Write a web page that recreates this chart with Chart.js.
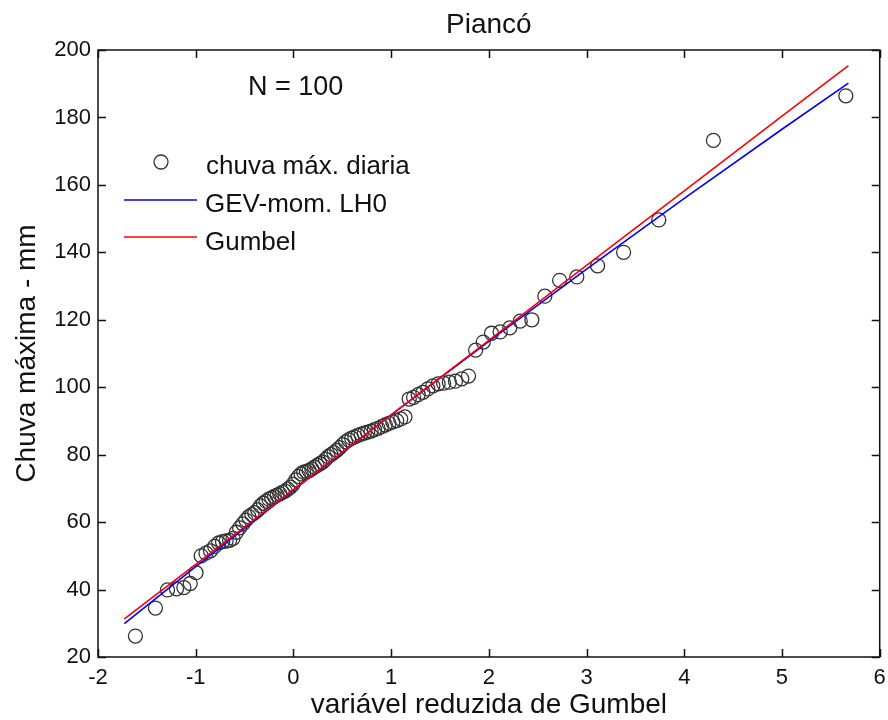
<!DOCTYPE html>
<html>
<head>
<meta charset="utf-8">
<title>Piancó</title>
<script src="https://cdn.jsdelivr.net/npm/chart.js@4.4.1/dist/chart.umd.min.js"></script>
<style>
  html, body { margin: 0; padding: 0; background: #fff; }
  canvas { display: block; }
</style>
</head>
<body>
<canvas id="chart" width="888" height="720"></canvas>
<script>
// reduced Gumbel variate of each sorted sample (plotting position)
const gumbelVariate = [
  -1.617, -1.412, -1.289, -1.197, -1.121, -1.056, -0.997, -0.944, -0.895, -0.849,
  -0.806, -0.765, -0.726, -0.689, -0.653, -0.618, -0.584, -0.551, -0.518, -0.487,
  -0.456, -0.425, -0.396, -0.366, -0.337, -0.308, -0.280, -0.251, -0.223, -0.195,
  -0.168, -0.140, -0.113, -0.085, -0.058, -0.031, -0.004, 0.024, 0.051, 0.078,
  0.105, 0.133, 0.160, 0.188, 0.215, 0.243, 0.271, 0.299, 0.328, 0.356,
  0.385, 0.414, 0.444, 0.474, 0.504, 0.534, 0.565, 0.596, 0.628, 0.660,
  0.693, 0.726, 0.760, 0.795, 0.830, 0.866, 0.902, 0.940, 0.978, 1.017,
  1.057, 1.098, 1.141, 1.185, 1.230, 1.277, 1.325, 1.375, 1.427, 1.481,
  1.537, 1.596, 1.658, 1.723, 1.792, 1.865, 1.943, 2.027, 2.116, 2.214,
  2.321, 2.440, 2.573, 2.724, 2.900, 3.113, 3.379, 3.739, 4.298, 5.653
];

// annual max daily rainfall (mm), sorted
const chuvaMax = [
  26.2, 34.5, 39.9, 40.2, 40.6, 41.8, 45.0, 50.0, 50.8, 51.5,
  52.8, 53.8, 54.2, 54.4, 54.6, 55.2, 57.0, 58.3, 59.5, 60.6,
  61.6, 62.2, 62.8, 63.6, 64.8, 65.6, 66.2, 66.8, 67.2, 67.6,
  68.0, 68.4, 68.8, 69.2, 69.8, 70.4, 71.2, 72.5, 73.5, 74.3,
  74.8, 75.0, 75.3, 75.8, 76.3, 76.8, 77.3, 77.8, 78.6, 79.4,
  80.0, 80.6, 81.3, 82.1, 83.0, 83.8, 84.4, 84.9, 85.3, 85.7,
  86.1, 86.4, 86.7, 87.0, 87.4, 87.8, 88.3, 88.8, 89.3, 89.7,
  90.1, 90.6, 91.2, 96.5, 97.0, 97.8, 98.5, 99.5, 100.4, 101.0,
  101.2, 101.5, 101.8, 102.5, 103.3, 111.0, 113.4, 116.0, 116.4, 117.6,
  119.6, 120.0, 127.0, 131.7, 132.7, 136.0, 140.0, 149.6, 173.2, 186.4
];

// fitted quantile curves
const fitVariate = [-1.73, -1, 0, 1, 2, 3, 4, 5, 5.68];
const gevMomLH0  = [29.9, 46.8, 69.5, 91.8, 113.6, 135.0, 156.0, 176.5, 190.2];
const gumbelFit  = [31.3, 47.5, 69.6, 91.8, 113.9, 136.1, 158.2, 180.4, 195.4];

const xTicks = [-2, -1, 0, 1, 2, 3, 4, 5, 6];
const yTicks = [20, 40, 60, 80, 100, 120, 140, 160, 180, 200];

const FONT = "'Liberation Sans', Arial, sans-serif";
const INK = '#111';

function toPoints(xs, ys) {
  return xs.map((x, i) => ({ x: x, y: ys[i] }));
}

// box around the axes with inward tick marks on every side, plus the texts inside the plot
const frameAndLabels = {
  id: 'frameAndLabels',
  afterDraw(chart) {
    const { ctx, chartArea: a, scales } = chart;
    const tickLen = 8;
    ctx.save();
    ctx.strokeStyle = INK;
    ctx.lineWidth = 1.5;
    ctx.strokeRect(a.left, a.top, a.right - a.left, a.bottom - a.top);

    ctx.beginPath();
    xTicks.forEach(v => {
      const px = Math.round(scales.x.getPixelForValue(v)) + 0.5;
      ctx.moveTo(px, a.bottom); ctx.lineTo(px, a.bottom - tickLen);
      ctx.moveTo(px, a.top); ctx.lineTo(px, a.top + tickLen);
    });
    yTicks.forEach(v => {
      const py = Math.round(scales.y.getPixelForValue(v)) + 0.5;
      ctx.moveTo(a.left, py); ctx.lineTo(a.left + tickLen, py);
      ctx.moveTo(a.right, py); ctx.lineTo(a.right - tickLen, py);
    });
    ctx.stroke();

    // title
    ctx.fillStyle = INK;
    ctx.font = '28px ' + FONT;
    ctx.textAlign = 'center';
    ctx.textBaseline = 'alphabetic';
    ctx.fillText('Piancó', (a.left + a.right) / 2, 33);

    // sample size
    ctx.textAlign = 'left';
    ctx.font = '27px ' + FONT;
    ctx.fillText('N = 100', 248, 95);

    // legend
    ctx.font = '26px ' + FONT;
    ctx.lineWidth = 1.3;
    ctx.strokeStyle = '#333';
    ctx.beginPath();
    ctx.arc(161, 162, 7, 0, Math.PI * 2);
    ctx.stroke();
    ctx.fillText('chuva máx. diaria', 206, 174);

    ctx.lineWidth = 1.6;
    ctx.strokeStyle = '#0000ff';
    ctx.beginPath(); ctx.moveTo(124, 200); ctx.lineTo(197, 200); ctx.stroke();
    ctx.fillText('GEV-mom. LH0', 205, 212);

    ctx.strokeStyle = '#ff0000';
    ctx.beginPath(); ctx.moveTo(124, 237); ctx.lineTo(197, 237); ctx.stroke();
    ctx.fillText('Gumbel', 205, 250);
    ctx.restore();
  }
};

function createGumbelChart() {
  const ctx = document.getElementById('chart').getContext('2d');

  const datasets = [
    {
      label: 'Gumbel',
      type: 'line',
      data: toPoints(fitVariate, gumbelFit),
      borderColor: '#ff0000',
      borderWidth: 1.6,
      pointRadius: 0,
      fill: false,
      order: 1
    },
    {
      label: 'GEV-mom. LH0',
      type: 'line',
      data: toPoints(fitVariate, gevMomLH0),
      borderColor: '#0000ff',
      borderWidth: 1.6,
      pointRadius: 0,
      fill: false,
      order: 2
    },
    {
      label: 'chuva máx. diaria',
      data: toPoints(gumbelVariate, chuvaMax),
      pointStyle: 'circle',
      pointRadius: 7,
      pointBorderWidth: 1.3,
      borderColor: '#333',
      backgroundColor: 'rgba(0,0,0,0)',
      order: 3
    }
  ];

  return new Chart(ctx, {
    type: 'scatter',
    data: { datasets: datasets },
    options: {
      responsive: false,
      animation: false,
      devicePixelRatio: 1,
      layout: { padding: { top: 50, right: 8, left: 0, bottom: 0 } },
      plugins: {
        legend: { display: false },
        tooltip: { enabled: false },
        title: { display: false }
      },
      scales: {
        x: {
          type: 'linear',
          min: -2,
          max: 6,
          afterBuildTicks: s => { s.ticks = xTicks.map(v => ({ value: v })); },
          ticks: { padding: 8, color: INK, font: { family: FONT, size: 22 } },
          grid: { display: false, drawTicks: false },
          border: { display: false },
          title: {
            display: true,
            text: 'variável reduzida de Gumbel',
            color: INK,
            font: { family: FONT, size: 28, lineHeight: 1 },
            padding: { top: 0, bottom: 1 }
          },
          afterFit: s => {
            s.height = 63;
            s.paddingLeft = 0;
            s.paddingRight = 0;
          }
        },
        y: {
          type: 'linear',
          min: 20,
          max: 200,
          afterBuildTicks: s => { s.ticks = yTicks.map(v => ({ value: v })); },
          ticks: { padding: 7, color: INK, font: { family: FONT, size: 22 } },
          grid: { display: false, drawTicks: false },
          border: { display: false },
          title: {
            display: true,
            text: 'Chuva máxima - mm',
            color: INK,
            font: { family: FONT, size: 28, lineHeight: 1 },
            padding: { top: 13, bottom: 0 }
          },
          afterFit: s => {
            s.width = 98;
            s.paddingTop = 0;
            s.paddingBottom = 0;
          }
        }
      }
    },
    plugins: [frameAndLabels]
  });
}

createGumbelChart();
</script>
</body>
</html>
